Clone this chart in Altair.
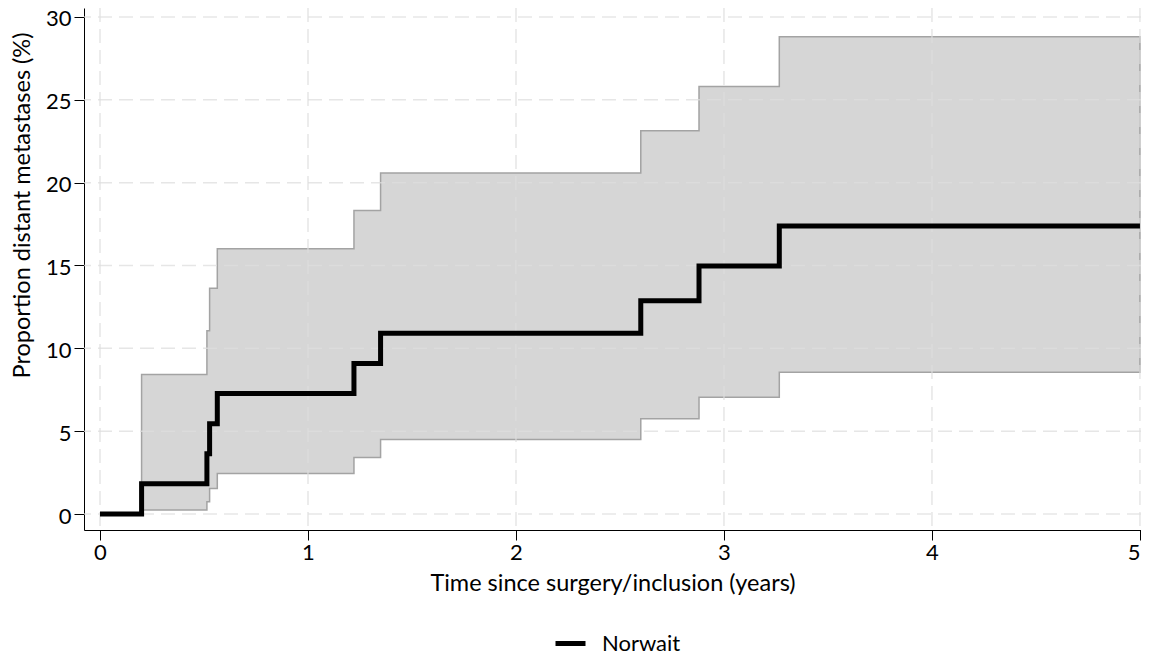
import altair as alt
import pandas as pd

# Step-function cumulative incidence (Norwait) with 95% CI band
times = [0.0, 0.20, 0.514, 0.527, 0.564, 1.221, 1.349, 2.60, 2.88, 3.266, 5.0]
estimate = [0.0, 1.82, 3.64, 5.45, 7.27, 9.09, 10.91, 12.87, 14.97, 17.38, 17.38]
lower_ci = [0.0, 0.24, 0.74, 1.54, 2.45, 3.41, 4.49, 5.75, 7.05, 8.56, 8.56]
upper_ci = [0.0, 8.42, 11.06, 13.63, 16.01, 18.32, 20.58, 23.13, 25.80, 28.80, 28.80]
series_name = "Norwait"
x_ticks = [0, 1, 2, 3, 4, 5]
y_ticks = [0, 5, 10, 15, 20, 25, 30]

df = pd.DataFrame({"t": times, "est": estimate, "lo": lower_ci, "hi": upper_ci,
                   "series": [series_name] * len(times)})
xdf = pd.DataFrame({"t": x_ticks})
ydf = pd.DataFrame({"est": y_ticks})

FONT = "Lato"
FS = 22
TFS = 23.5

xs = alt.Scale(domain=[-0.0769, 5.005], nice=False, zero=False)
ys = alt.Scale(domain=[-0.965, 30.54], nice=False, zero=False)

xaxis = alt.Axis(values=x_ticks, format="d", grid=False, title="Time since surgery/inclusion (years)",
                 domainColor="black", tickColor="black", tickSize=10, labelPadding=2,
                 labelFlush=3,
                 labelFont=FONT, labelFontSize=FS, labelColor="black",
                 titleFont=FONT, titleFontSize=TFS, titleFontWeight="normal", titleColor="black",
                 titlePadding=8)
yaxis = alt.Axis(values=y_ticks, format="d", grid=False, title="Proportion distant metastases (%)",
                 domainColor="black", tickColor="black", tickSize=10, labelPadding=3,
                 labelOffset=2,
                 labelFont=FONT, labelFontSize=FS, labelColor="black",
                 titleFont=FONT, titleFontSize=TFS, titleFontWeight="normal", titleColor="black",
                 titlePadding=11, titleY=197)

band = alt.Chart(df).mark_area(
    interpolate="step-after", fill="#d6d6d6", stroke="#a3a3a3", strokeWidth=1.5
).encode(
    x=alt.X("t:Q", scale=xs, axis=xaxis),
    y=alt.Y("lo:Q", scale=ys, axis=yaxis),
    y2="hi:Q",
)

grid_style = dict(color="#dedede", opacity=0.75, strokeWidth=1.5, strokeDash=[14, 7])
xgrid = alt.Chart(xdf).mark_rule(**grid_style).encode(x=alt.X("t:Q", scale=xs, axis=xaxis))
ygrid = alt.Chart(ydf).mark_rule(**grid_style).encode(y=alt.Y("est:Q", scale=ys, axis=yaxis))

line = alt.Chart(df).mark_line(
    interpolate="step-after", strokeWidth=5, strokeJoin="miter", strokeCap="butt"
).encode(
    x=alt.X("t:Q", scale=xs, axis=xaxis),
    y=alt.Y("est:Q", scale=ys, axis=yaxis),
    color=alt.Color("series:N", scale=alt.Scale(range=["black"]),
                    legend=alt.Legend(orient="none", legendX=469, legendY=618, title=None,
                                      symbolType="stroke", symbolStrokeWidth=5, symbolSize=900,
                                      labelFont=FONT, labelFontSize=FS, labelColor="black",
                                      labelOffset=14)),
)

chart = alt.layer(band, xgrid, ygrid, line).properties(
    width=1057, height=522,
    autosize=alt.AutoSizeParams(type="none"),
    padding={"left": 76, "top": 0, "right": 0, "bottom": 125},
).configure_view(stroke=None)

chart.save("out.html", embed_options={"renderer": "svg", "actions": False})
